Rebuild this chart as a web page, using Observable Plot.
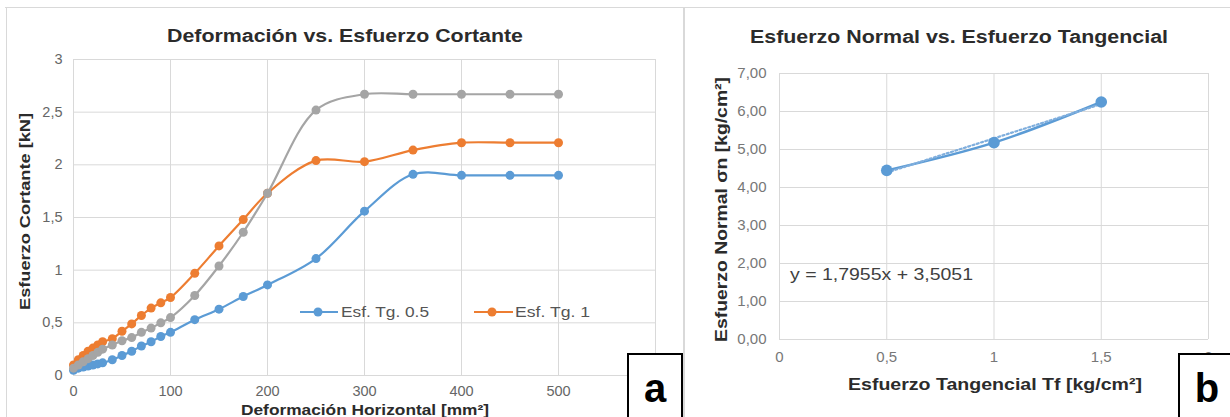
<!DOCTYPE html>
<html><head><meta charset="utf-8">
<script src="https://cdn.jsdelivr.net/npm/d3@7"></script>
<script src="https://cdn.jsdelivr.net/npm/@observablehq/plot@0.6"></script>
<style>
html,body{margin:0;padding:0;background:#fff;}
#root{position:relative;width:1230px;height:417px;overflow:hidden;font-family:"Liberation Sans",Arial,sans-serif;}
#root > svg{position:absolute;top:0;}
</style></head><body><div id="root"></div>
<script>
// ---- Panel a data ----
const deformacion = [0,5,10,15,20,25,30,40,50,60,70,80,90,100,125,150,175,200,250,300,350,400,450,500];
const esfTg05 = [0.05,0.07,0.08,0.09,0.10,0.11,0.12,0.15,0.19,0.23,0.28,0.32,0.37,0.41,0.53,0.63,0.75,0.86,1.11,1.56,1.91,1.90,1.90,1.90];
const esfTg1  = [0.10,0.15,0.19,0.23,0.26,0.29,0.32,0.35,0.42,0.49,0.57,0.64,0.69,0.74,0.97,1.23,1.48,1.73,2.04,2.03,2.14,2.21,2.21,2.21];
const esfTg15 = [0.07,0.10,0.13,0.16,0.19,0.22,0.25,0.29,0.33,0.36,0.41,0.45,0.50,0.55,0.76,1.04,1.36,1.73,2.52,2.67,2.67,2.67,2.67,2.67];
const seriesNames = ["Esf. Tg. 0.5","Esf. Tg. 1","Esf. Tg. 1.5"];
const seriesColors = ["#5B9BD5","#ED7D31","#A5A5A5"];
const legendNames = ["Esf. Tg. 0.5","Esf. Tg. 1"];
const xTicksA = [0,100,200,300,400,500,600];
const yTicksA = [0,0.5,1,1.5,2,2.5,3];

// ---- Panel b data ----
const esfTangencial = [0.5,1,1.5];
const esfNormal = [4.45,5.18,6.25];
const trendSlope = 1.7955, trendIntercept = 3.5051;
const xTicksB = [0,0.5,1,1.5,2];
const yTicksB = [0,1,2,3,4,5,6,7];

const comma = s => String(s).replace(".", ",");
const root = document.getElementById("root");
const FONT = "Liberation Sans, Arial, sans-serif";

// ---------- Plot A ----------
const allSeries = [esfTg05, esfTg1, esfTg15];
const rowsA = seriesNames.map((name, k) => deformacion.map((d, i) => ({serie: name, x: d, y: allSeries[k][i]})));
const seriesMarks = rowsA.flatMap((rows, k) => [
  Plot.line(rows, {x: "x", y: "y", stroke: seriesColors[k], strokeWidth: 2.2, curve: "catmull-rom"}),
  Plot.dot(rows, {x: "x", y: "y", fill: seriesColors[k], r: 4.5})
]);
const plotA = Plot.plot({
  width: 684, height: 417,
  marginLeft: 73, marginRight: 29, marginTop: 59, marginBottom: 42,
  style: {fontFamily: FONT, fontSize: "14.5px", background: "transparent", overflow: "visible"},
  x: {domain: [0, 600]},
  y: {domain: [0, 3]},
  marks: [
    Plot.gridX(xTicksA, {stroke: "#d9d9d9", strokeOpacity: 1}),
    Plot.gridY(yTicksA, {stroke: "#d9d9d9", strokeOpacity: 1}),
    Plot.axisX(xTicksA.slice(0, 6), {tickSize: 0, tickPadding: 10, label: null, fill: "#666", tickFormat: d => comma(d)}),
    Plot.axisY(yTicksA, {tickSize: 0, tickPadding: 11, label: null, fill: "#666", tickFormat: d => comma(d)}),
    ...seriesMarks
  ]
});
plotA.style.left = "0px";
root.appendChild(plotA);

// ---------- Plot B ----------
const rowsB = esfTangencial.map((t, i) => ({x: t, y: esfNormal[i]}));
const plotB = Plot.plot({
  width: 546, height: 417,
  marginLeft: 95, marginRight: 22, marginTop: 73, marginBottom: 78,
  style: {fontFamily: FONT, fontSize: "15px", background: "transparent", overflow: "visible"},
  x: {domain: [0, 2]},
  y: {domain: [0, 7]},
  marks: [
    Plot.gridX(xTicksB, {stroke: "#d9d9d9", strokeOpacity: 1}),
    Plot.gridY(yTicksB, {stroke: "#d9d9d9", strokeOpacity: 1}),
    Plot.axisX(xTicksB, {tickSize: 0, tickPadding: 12, label: null, fill: "#777", tickFormat: d => comma(d)}),
    Plot.axisY(yTicksB, {tickSize: 0, tickPadding: 13, label: null, fill: "#777", tickFormat: d => comma(d3.format(".2f")(d))}),
    Plot.line(rowsB, {x: "x", y: "y", stroke: "#5B9BD5", strokeWidth: 2.5, curve: "catmull-rom"}),
    Plot.linearRegressionY(rowsB, {x: "x", y: "y", ci: 0, stroke: "#7FAEDD", strokeWidth: 2.2, strokeDasharray: "2,2.5"}),
    Plot.dot(rowsB, {x: "x", y: "y", fill: "#5B9BD5", r: 5.8})
  ]
});
plotB.style.left = "684px";
root.appendChild(plotB);

// ---------- Overlay: frames, titles, labels, legend, equation, panel letters ----------
const ov = d3.create("svg").attr("width", 1230).attr("height", 417)
  .style("left", "0px").style("font-family", FONT);
// panel borders
ov.append("line").attr("x1", 5).attr("x2", 1230).attr("y1", 7.5).attr("y2", 7.5).attr("stroke", "#d9d9d9");
ov.append("line").attr("x1", 6.5).attr("x2", 6.5).attr("y1", 7).attr("y2", 417).attr("stroke", "#d9d9d9");
ov.append("line").attr("x1", 684).attr("x2", 684).attr("y1", 7).attr("y2", 417).attr("stroke", "#d9d9d9").attr("stroke-width", 2);

function text(str, x, y, size, len, opts = {}) {
  const t = ov.append("text").attr("x", x).attr("y", y).attr("font-size", size)
    .attr("text-anchor", opts.anchor || "middle")
    .attr("fill", opts.fill || "#333")
    .attr("font-weight", opts.bold ? "bold" : "normal")
    .text(str);
  if (len) t.attr("textLength", len).attr("lengthAdjust", "spacingAndGlyphs");
  if (opts.rotate) t.attr("transform", `rotate(-90 ${x} ${y})`);
  return t;
}
// Panel a texts
text("Deformación vs. Esfuerzo Cortante", 345, 42, 18, 356, {bold: true, fill: "#2b2b2b"});
text("Esfuerzo Cortante [kN]", 30, 211.5, 15.5, 197, {bold: true, rotate: true, fill: "#2b2b2b"});
text("Deformación Horizontal [mm²]", 365, 415, 14.5, 248, {bold: true, fill: "#2b2b2b"});
// legend
const legendLines = [[300, 338, 318, 341, 88], [474, 513, 492, 515, 75]];
legendNames.forEach((name, i) => {
  const [x1, x2, cx, tx, tl] = legendLines[i];
  ov.append("line").attr("x1", x1).attr("x2", x2).attr("y1", 312).attr("y2", 312).attr("stroke", seriesColors[i]).attr("stroke-width", 2.2);
  ov.append("circle").attr("cx", cx).attr("cy", 312).attr("r", 4.5).attr("fill", seriesColors[i]);
  text(name, tx, 317, 14.5, tl, {anchor: "start", fill: "#555"});
});
// Panel b texts
text("Esfuerzo Normal vs. Esfuerzo Tangencial", 959, 43, 18, 418, {bold: true, fill: "#2b2b2b"});
text("Esfuerzo Normal σn [kg/cm²]", 727, 209.5, 16.5, 265, {bold: true, rotate: true, fill: "#2b2b2b"});
text("Esfuerzo Tangencial Tf [kg/cm²]", 995, 390, 16.5, 294, {bold: true, fill: "#2b2b2b"});
text(`y = ${comma(trendSlope)}x + ${comma(trendIntercept)}`, 790, 280, 16, 183, {anchor: "start", fill: "#404040"});
// panel letters
ov.append("rect").attr("x", 628).attr("y", 354).attr("width", 54).attr("height", 70).attr("fill", "#fff").attr("stroke", "#000").attr("stroke-width", 2);
text("a", 655, 402, 40, null, {bold: true, fill: "#000"});
ov.append("rect").attr("x", 1179).attr("y", 354).attr("width", 60).attr("height", 70).attr("fill", "#fff").attr("stroke", "#000").attr("stroke-width", 2);
text("b", 1207, 402, 40, null, {bold: true, fill: "#000"});
root.appendChild(ov.node());
</script></body></html>
